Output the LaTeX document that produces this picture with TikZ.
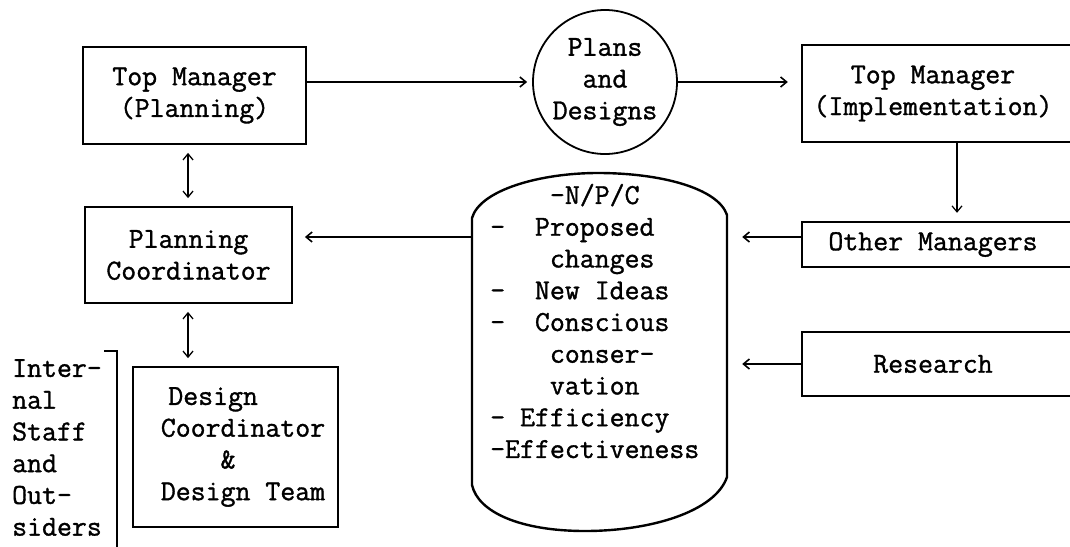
\documentclass[tikz,border=0pt]{standalone}
\usepackage{fontspec}
\usetikzlibrary{arrows.meta}
% typewriter face, slightly heavier strokes
\newfontfamily\typewriter{Latin Modern Mono}[FakeBold=1.2]
% horizontal gap of n typewriter columns
\newcommand\gap[1]{\hspace*{#1\fontcharwd\font`\x}}
\begin{document}
\begin{tikzpicture}[x=1pt, y=-1pt,
  font=\fontsize{29}{31.75}\selectfont\typewriter,
  box/.style={draw, line width=1.8pt, inner sep=0pt, align=center},
  openbox/.style={inner sep=0pt, align=center},
  edgeline/.style={line width=1.8pt},
  tip/.tip={Straight Barb[length=6pt, width=10pt]},
  arr/.style={line width=1.6pt, -tip},
  arrthin/.style={line width=1.2pt, -tip},
  darr/.style={line width=1.3pt, tip-tip, shorten <=8pt, shorten >=8pt}]
\useasboundingbox (0,0) rectangle (1070,546);
\clip (0,0) rectangle (1070,546);

% left column
\node[box, minimum width=223pt, minimum height=97pt] (tmp) at (194.5,95.5) {Top Manager\\(Planning)};
\node[box, minimum width=207pt, minimum height=96pt] (pc) at (188.5,255) {Planning\\Coordinator};
\node[box, minimum width=205pt, minimum height=160pt] (dc) at (235.5,447) {};
\node[inner sep=0pt, align=left] (dctext) at (243,447) {\gap{0.5}Design\\Coordinator\\\gap{4}\&\\Design Team};

% staff bracket and its label
\node[inner sep=0pt, align=left, anchor=west] (staff) at (12,447.5) {Inter-\\nal\\Staff\\and\\Out-\\siders};
\draw[line width=2.2pt] (104,351) -- (117,351) -- (117,560);

% plans circle
\node[draw, circle, line width=1.8pt, minimum size=144pt, inner sep=0pt, align=center] (pd) at (605,82) {Plans\\and\\Designs};

% right column, boxes run off the right edge
\coordinate (edge) at (1080,0);
\node[openbox, minimum width=262pt, minimum height=97pt] (tmi) at (933,93.5) {Top Manager\\(Implementation)};
\node[openbox, minimum width=262pt, minimum height=45pt] (om) at (933,244.5) {Other Managers};
\node[openbox, minimum width=262pt, minimum height=64pt] (rs) at (933,364) {Research};
\foreach \n in {tmi,om,rs}
  \draw[edgeline] (\n.north -| edge) -- (\n.north west) -- (\n.south west) -- (\n.south -| edge);

% drum holding the pool of inputs
\node[minimum width=255pt, minimum height=358pt, inner sep=0pt] (pool) at (599.5,352) {};
\draw[line width=2.4pt]
  (472,485) -- (472,218)
  .. controls (480,190) and (540,173) .. (598,173)
  .. controls (660,173) and (718,188) .. (727,215)
  -- (727,477)
  .. controls (715,512) and (650,531) .. (585,531)
  .. controls (520,531) and (478,512) .. (472,485);
\node[inner sep=0pt, align=left, anchor=west] (inputs) at (490,321)
  {\gap{4}-N/P/C\\-\gap{2}Proposed\\\gap{4}changes\\-\gap{2}New Ideas\\-\gap{2}Conscious\\\gap{4}conser-\\\gap{4}vation\\-\gap{1}Efficiency\\-Effectiveness};

% connectors
\coordinate (lvl) at (0,237);
\coordinate (dx) at (957,0);
\coordinate (ax) at (188,0);
\draw[arr, shorten >=5pt] (tmp.east |- pd.center) -- (pd.west);
\draw[arr, shorten >=14pt] (pd.east) -- (tmi.west |- pd.east);
\draw[arrthin, shorten >=9pt] (tmi.south -| dx) -- (om.north -| dx);
\draw[arr, shorten >=15pt] (om.west |- lvl) -- (pool.east |- lvl);
\draw[arr, shorten >=15pt] (rs.west) -- (rs.west -| pool.east);
\draw[arr, shorten >=12pt] (pool.west |- lvl) -- (pc.east |- lvl);
\draw[darr] (tmp.south -| ax) -- (pc.north -| ax);
\draw[darr] (pc.south -| ax) -- (dc.north -| ax);
\end{tikzpicture}
\end{document}
